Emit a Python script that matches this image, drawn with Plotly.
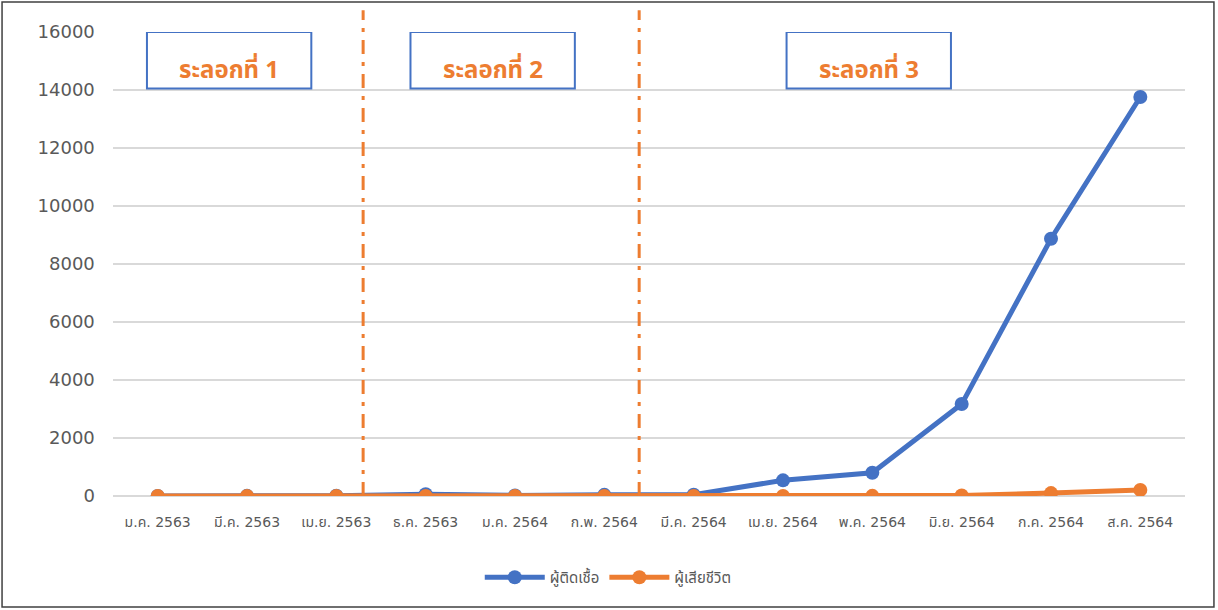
import plotly.graph_objects as go

categories = ["ม.ค. 2563", "มี.ค. 2563", "เม.ย. 2563", "ธ.ค. 2563", "ม.ค. 2564", "ก.พ. 2564",
              "มี.ค. 2564", "เม.ย. 2564", "พ.ค. 2564", "มิ.ย. 2564", "ก.ค. 2564", "ส.ค. 2564"]
infected = [2, 5, 10, 60, 20, 40, 45, 540, 800, 3170, 8870, 13760]
deaths = [0, 0, 0, 0, 0, 0, 0, 0, 5, 20, 100, 210]
wave_labels = ["ระลอกที่ 1", "ระลอกที่ 2", "ระลอกที่ 3"]
wave_dividers = [2.3, 5.39]
wave_boxes = [(-0.12, 1.72), (2.83, 4.67), (7.04, 8.88)]

BLUE = "#4472C4"
ORANGE = "#ED7D31"
FONT = "DejaVu Sans, Noto Sans Thai, Noto Sans, sans-serif"

fig = go.Figure()
fig.add_trace(go.Scatter(x=list(range(len(categories))), y=infected, name="ผู้ติดเชื้อ",
                         mode="lines+markers", line=dict(color=BLUE, width=5),
                         marker=dict(size=14, color=BLUE)))
fig.add_trace(go.Scatter(x=list(range(len(categories))), y=deaths, name="ผู้เสียชีวิต",
                         mode="lines+markers", line=dict(color=ORANGE, width=5),
                         marker=dict(size=14, color=ORANGE)))

for xv in wave_dividers:
    fig.add_shape(type="line", xref="x", yref="paper", x0=xv, x1=xv, y0=0, y1=1.047,
                  line=dict(color=ORANGE, width=3, dash="14px,8px,4px,8px"))

for (bx0, bx1), lab in zip(wave_boxes, wave_labels):
    fig.add_shape(type="rect", xref="x", yref="y", x0=bx0, x1=bx1, y0=14050, y1=16000,
                  line=dict(color=BLUE, width=2), fillcolor="rgba(0,0,0,0)")
    fig.add_annotation(x=(bx0 + bx1) / 2, y=14650, xref="x", yref="y", text="<b>" + lab + "</b>",
                       showarrow=False, font=dict(size=24, color=ORANGE,
                                                  family="Noto Sans Thai, Noto Sans, sans-serif"))

# outer border
fig.add_shape(type="rect", xref="paper", yref="paper", x0=-0.1035, x1=1.027, y0=-0.239, y1=1.0647,
              line=dict(color="#404040", width=1.5))

fig.update_layout(
    width=1218, height=610,
    margin=dict(l=113, r=33, t=32, b=114),
    paper_bgcolor="white", plot_bgcolor="white",
    font=dict(family=FONT, color="#595959"),
    showlegend=True,
    legend=dict(orientation="h", x=0.462, xanchor="center", y=-0.14, yanchor="top",
                font=dict(size=15, color="#595959"), itemwidth=60),
)
fig.update_xaxes(tickmode="array", tickvals=list(range(len(categories))), ticktext=categories,
                 range=[-0.5, len(categories) - 0.5], showgrid=False, zeroline=False,
                 showline=False, ticks="", tickfont=dict(size=14, color="#595959"),
                 ticklabelstandoff=16)
fig.update_yaxes(range=[0, 16000], dtick=2000, tickformat="d", showgrid=True, gridcolor="#D9D9D9",
                 gridwidth=1.5, zeroline=True, zerolinecolor="#D9D9D9", showline=False, ticks="",
                 tickfont=dict(size=18, color="#595959"), ticksuffix="   ")

fig.write_html("out.html", post_script="document.body.style.margin='0';",
               config={"displayModeBar": False})
